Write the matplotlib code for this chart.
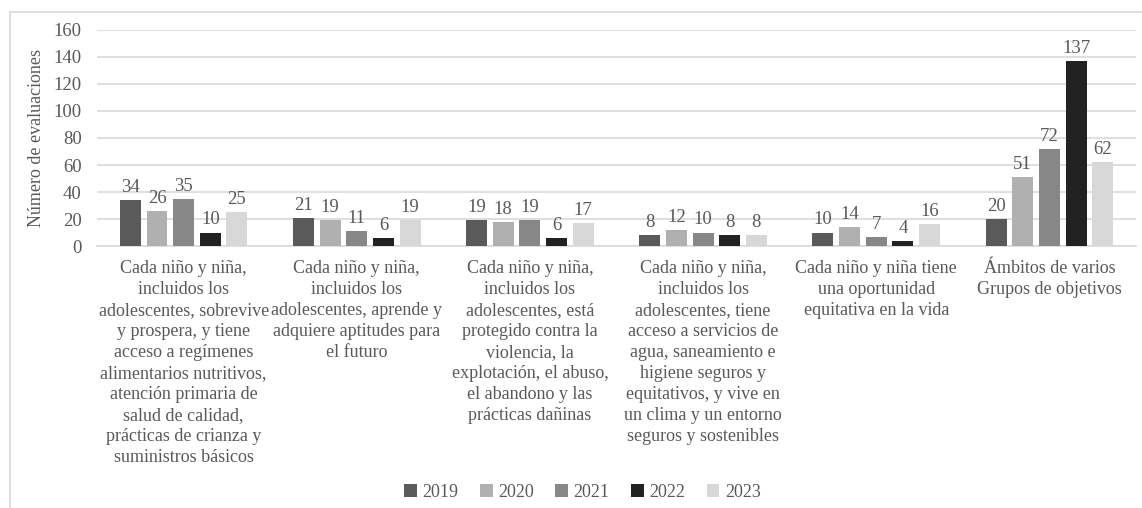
import matplotlib
matplotlib.use('Agg')
import matplotlib.pyplot as plt
import numpy as np
from matplotlib.patches import Rectangle

# Data
categories = [
    'Cada niño y niña,\nincluidos los\nadolescentes, sobrevive\ny prospera, y tiene\nacceso a regímenes\n'
    'alimentarios nutritivos,\natención primaria de\nsalud de calidad,\nprácticas de crianza y\nsuministros básicos',
    'Cada niño y niña,\nincluidos los\nadolescentes, aprende y\nadquiere aptitudes para\nel futuro',
    'Cada niño y niña,\nincluidos los\nadolescentes, está\nprotegido contra la\nviolencia, la\n'
    'explotación, el abuso,\nel abandono y las\nprácticas dañinas',
    'Cada niño y niña,\nincluidos los\nadolescentes, tiene\nacceso a servicios de\nagua, saneamiento e\n'
    'higiene seguros y\nequitativos, y vive en\nun clima y un entorno\nseguros y sostenibles',
    'Cada niño y niña tiene\nuna oportunidad\nequitativa en la vida',
    'Ámbitos de varios\nGrupos de objetivos',
]
years = ['2019', '2020', '2021', '2022', '2023']
v2019 = [34, 21, 19, 8, 10, 20]
v2020 = [26, 19, 18, 12, 14, 51]
v2021 = [35, 11, 19, 10, 7, 72]
v2022 = [10, 6, 6, 8, 4, 137]
v2023 = [25, 19, 17, 8, 16, 62]
yticks = [0, 20, 40, 60, 80, 100, 120, 140, 160]

series = [v2019, v2020, v2021, v2022, v2023]
colors = ['#5a5a5a', '#b0b0b0', '#878787', '#222222', '#d8d8d8']
textColor = '#595959'

plt.rcParams['font.family'] = ['Liberation Serif', 'DejaVu Serif']
plt.rcParams['font.size'] = 13

fig = plt.figure(figsize=(11.42, 5.08), dpi=100)
ax = fig.add_axes([0.085, 0.5157, 0.9097, 0.4253])

# outer chart border (clipped on the right and bottom)
fig.patches.append(Rectangle((10 / 1142, -0.2), 1.2, 1.2 - 12 / 508, transform=fig.transFigure,
                             fill=False, edgecolor='#d9d9d9', linewidth=1.2))

x = np.arange(len(categories))
barWidth = 0.121
pitch = 0.154
for i, (vals, yr) in enumerate(zip(series, years)):
    pos = x + (i - 2) * pitch
    bars = ax.bar(pos, vals, width=barWidth, color=colors[i], label=yr, zorder=3)
    for b, v in zip(bars, vals):
        ax.text(b.get_x() + b.get_width() / 2, v + 3, str(v), ha='center', va='bottom',
                color=textColor, fontsize=13.5)

ax.set_xlim(-0.5, len(categories) - 0.5)
ax.set_ylim(0, 160)
ax.set_yticks(yticks)
ax.set_xticks(x)
ax.set_xticklabels(categories, color=textColor, fontsize=13, va='top', linespacing=1.31)
ax.tick_params(axis='y', length=0, pad=11, colors=textColor, labelsize=13.5)
ax.tick_params(axis='x', length=0, pad=10)
ax.yaxis.grid(True, color='#d9d9d9', linewidth=1.2, zorder=0)
ax.set_axisbelow(True)
for s in ['top', 'right', 'left']:
    ax.spines[s].set_visible(False)
ax.spines['bottom'].set_color('#d9d9d9')
ax.spines['bottom'].set_linewidth(1.2)
ax.set_ylabel('Número de evaluaciones', color=textColor, fontsize=13, labelpad=6)

leg = fig.legend(loc='center', bbox_to_anchor=(0.51, 0.031), ncol=5, frameon=False,
                 handlelength=0.7, handleheight=0.7, handletextpad=0.3, columnspacing=1.2,
                 fontsize=13)
for t in leg.get_texts():
    t.set_color(textColor)

plt.savefig('out.png', dpi=100)
